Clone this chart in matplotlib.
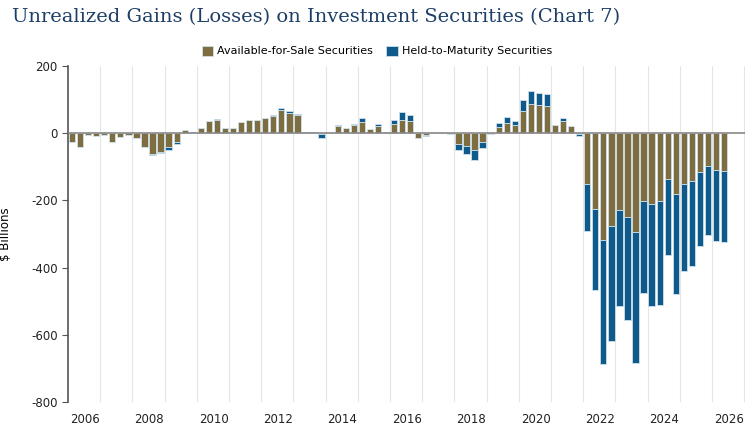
import matplotlib
matplotlib.use("Agg")
import matplotlib.pyplot as plt
import numpy as np

afs = [-25,-40,-5,-8,-5,-25,-10,-5,-15,-40,-62,-55,-40,-27,10,5,15,35,40,15,15,32,40,40,45,50,68,60,55,
       3,3,-3,2,22,15,23,32,12,20,3,27,40,35,-13,-5,0,2,-3,-33,-38,-50,-27,-2,
       18,30,25,65,88,85,81,25,36,22,-3,
       -150,-227,-319,-277,-230,-249,-293,-203,-210,-203,-137,-182,-150,-142,-114,-97,-109,-112]
htm = [0,0,0,0,0,0,0,0,0,0,-2,-5,-10,-6,0,0,0,0,3,0,0,0,0,0,0,5,8,6,3,
       0,0,-12,0,3,0,5,12,0,7,0,12,22,20,0,-3,0,0,0,-18,-25,-30,-16,0,
       12,17,12,33,37,35,35,0,8,0,-6,
       -140,-240,-368,-340,-284,-308,-391,-273,-305,-308,-225,-297,-261,-252,-221,-207,-213,-213]
year_labels = ["2006","2008","2010","2012","2014","2016","2018","2020","2022","2024","2026"]

x = np.arange(len(afs))
afs = np.array(afs, float); htm = np.array(htm, float)

fig = plt.figure(figsize=(7.54, 4.42), dpi=100)
ax = fig.add_axes([68/754, 1-402/442, (745-68)/754, (402-66)/442])
for g in np.arange(3.5, 84, 4):
    ax.axvline(g, color="#e6e6e6", lw=0.8, zorder=0)
c_afs, c_htm, edge = "#7e6d3e", "#0d5a8b", "#cfe0ea"
ax.bar(x, afs, width=0.78, color=c_afs, edgecolor=edge, linewidth=0.6, zorder=2,
       label="Available-for-Sale Securities")
ax.bar(x, htm, width=0.78, bottom=afs, color=c_htm, edgecolor=edge, linewidth=0.6, zorder=2,
       label="Held-to-Maturity Securities")
ax.axhline(0, color="#888888", lw=1.2, zorder=3)
ax.set_xlim(-0.5, 83.6)
ax.set_ylim(-800, 200)
ax.set_yticks(range(-800, 201, 200))
ax.set_yticklabels([str(v) for v in range(-800, 201, 200)], fontsize=8.5, color="#222222")
ax.set_xticks(1.6 + 8*np.arange(len(year_labels)))
ax.set_xticklabels(year_labels, fontsize=8.5, color="#222222")
ax.tick_params(axis="x", length=0, pad=8)
ax.tick_params(axis="y", length=4, color="#555555")
for s in ["top", "right", "bottom"]:
    ax.spines[s].set_visible(False)
ax.spines["left"].set_color("#555555")
ax.spines["left"].set_linewidth(1.2)
ax.set_ylabel("$ Billions", fontsize=8.5, labelpad=14)
fig.text(12/754, 1-17/442, "Unrealized Gains (Losses) on Investment Securities (Chart 7)",
         fontsize=14, family="DejaVu Serif", color="#1d3f66", va="center")
fig.legend(loc="center", bbox_to_anchor=(0.5, 1-51/442), ncol=2, frameon=False,
           fontsize=8, handlelength=1.0, handleheight=1.0, columnspacing=1.2, handletextpad=0.4)
fig.savefig("out.png", dpi=100)
